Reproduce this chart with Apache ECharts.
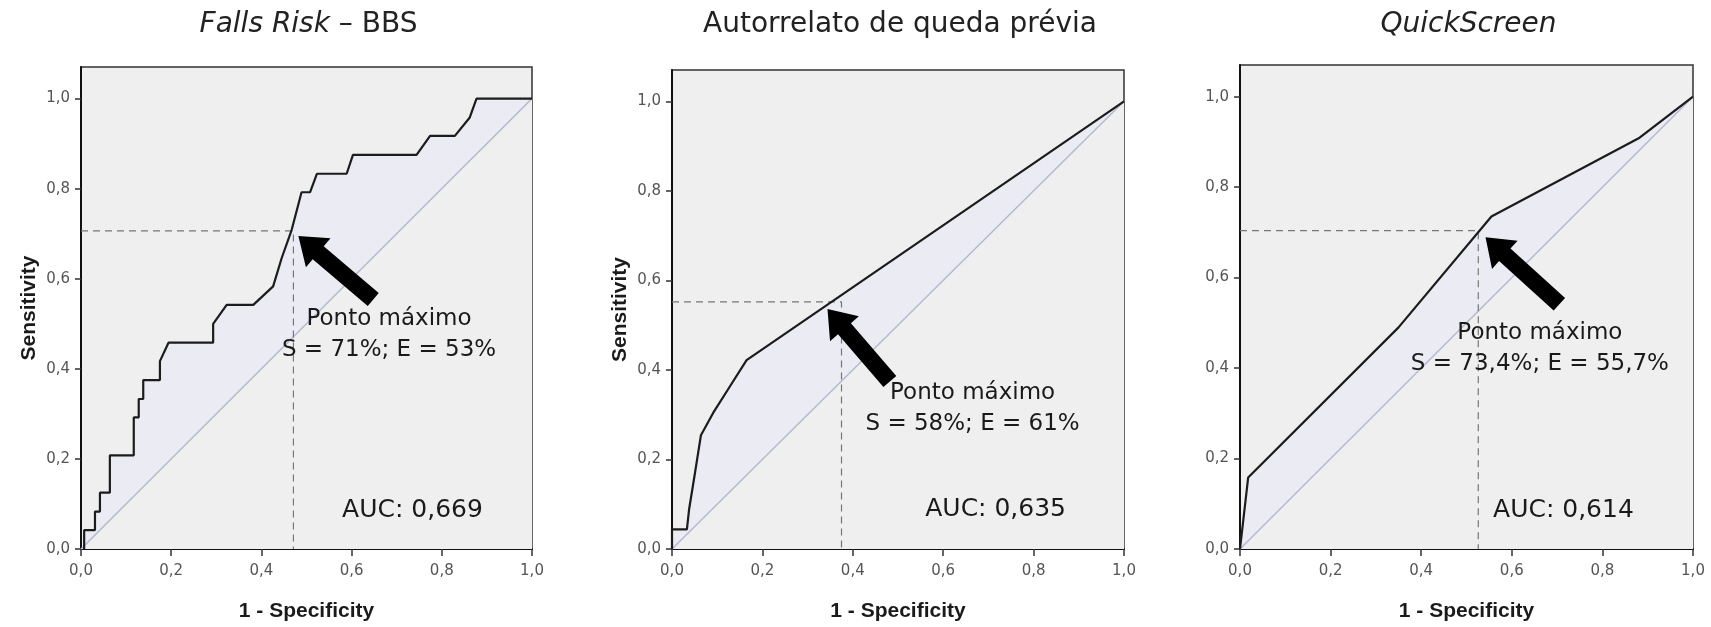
<!DOCTYPE html>
<html>
<head>
<meta charset="utf-8">
<script src="https://cdn.jsdelivr.net/npm/echarts@6/dist/echarts.min.js"></script>
<style>
  html, body { margin: 0; padding: 0; background: #fff; }
  #roc { width: 1711px; height: 627px; }
</style>
</head>
<body>
<div id="roc"></div>
<script>
// tick positions (both axes)
var ticks = [0, 0.2, 0.4, 0.6, 0.8, 1.0];

// Falls Risk - BBS (1 - specificity / sensitivity)
var bbsFpr = [0.007, 0.007, 0.031, 0.031, 0.042, 0.042, 0.064, 0.064, 0.117, 0.117, 0.128, 0.128, 0.138, 0.138, 0.175, 0.175, 0.194, 0.293, 0.293, 0.323, 0.382, 0.426, 0.445, 0.467, 0.489, 0.508, 0.523, 0.589, 0.603, 0.744, 0.774, 0.829, 0.862, 0.877, 1.0];
var bbsTpr = [0, 0.042, 0.042, 0.083, 0.083, 0.125, 0.125, 0.208, 0.208, 0.292, 0.292, 0.333, 0.333, 0.375, 0.375, 0.417, 0.458, 0.458, 0.5, 0.542, 0.542, 0.583, 0.646, 0.708, 0.792, 0.792, 0.833, 0.833, 0.875, 0.875, 0.917, 0.917, 0.958, 1.0, 1.0];

// Autorrelato de queda prévia
var quedaFpr = [0, 0, 0.033, 0.038, 0.051, 0.064, 0.091, 0.128, 0.165, 1.0];
var quedaTpr = [0, 0.044, 0.044, 0.09, 0.171, 0.254, 0.304, 0.363, 0.422, 1.0];

// QuickScreen
var quickFpr = [0, 0.018, 0.35, 0.555, 0.88, 1.0];
var quickTpr = [0, 0.158, 0.49, 0.735, 0.908, 1.0];

// reference diagonal
var refFpr = [0, 1];
var refTpr = [0, 1];

// cut points (dashed guides) [fpr, tpr]
var cutPoints = [[0.471, 0.706], [0.375, 0.552], [0.526, 0.704]];

// arrows: tip and tail, data coords
var arrowTips = [[0.482, 0.695], [0.344, 0.536], [0.542, 0.689]];
var arrowTails = [[0.648, 0.554], [0.482, 0.374], [0.705, 0.541]];

var titles = ['{i|Falls Risk} – BBS', 'Autorrelato de queda prévia', '{i|QuickScreen}'];
var pontoLabels = ['S = 71%; E = 53%', 'S = 58%; E = 61%', 'S = 73,4%; E = 55,7%'];
var pontoPos = [[0.683, 0.475], [0.665, 0.314], [0.662, 0.444]];
var aucLabels = ['AUC: 0,669', 'AUC: 0,635', 'AUC: 0,614'];
var aucPos = [[0.735, 0.086], [0.716, 0.088], [0.714, 0.086]];

var curvesFpr = [bbsFpr, quedaFpr, quickFpr];
var curvesTpr = [bbsTpr, quedaTpr, quickTpr];

function pairs(xs, ys) {
  var out = [];
  for (var i = 0; i < xs.length; i++) out.push([xs[i], ys[i]]);
  return out;
}

var chart = echarts.init(document.getElementById('roc'));
var FONT = '"DejaVu Sans", Arial, sans-serif';
var BOLD = '"Liberation Sans", Arial, sans-serif';

// grid boxes (pixels)
var grids = [
  {left: 81, top: 67, width: 451, height: 483},
  {left: 672, top: 70, width: 452, height: 484},
  {left: 1240, top: 65, width: 453, height: 486}
];

var fmt = function (v) { return v.toFixed(1).replace('.', ','); };

var option = {
  animation: false,
  grid: grids.map(function (g) {
    return Object.assign({
      show: true, backgroundColor: '#efefef', borderColor: '#333', borderWidth: 1.5
    }, g);
  }),
  xAxis: [],
  yAxis: [],
  series: []
};

for (let i = 0; i < 3; i++) {
  option.xAxis.push({
    type: 'value', gridIndex: i, min: 0, max: 1, interval: 0.2,
    name: '1 - Specificity', nameLocation: 'middle', nameGap: 52,
    nameTextStyle: {fontFamily: BOLD, fontWeight: 'bold', fontSize: 21, color: '#1a1a1a'},
    axisLine: {lineStyle: {color: '#111', width: 2}},
    axisTick: {length: 7, lineStyle: {color: '#333', width: 1.5}, customValues: ticks},
    axisLabel: {margin: 15, fontFamily: FONT, fontSize: 15, color: '#555', formatter: fmt, customValues: ticks},
    splitLine: {show: false}
  });
  option.yAxis.push({
    type: 'value', gridIndex: i, min: 0, max: 1.07, interval: 0.2,
    name: i < 2 ? 'Sensitivity' : '', nameLocation: 'middle', nameGap: 41, nameRotate: 90,
    nameTextStyle: {fontFamily: BOLD, fontWeight: 'bold', fontSize: 21, color: '#1a1a1a'},
    axisLine: {lineStyle: {color: '#111', width: 2}},
    axisTick: {length: 6, lineStyle: {color: '#333', width: 1.5}, customValues: ticks},
    axisLabel: {margin: 11, fontFamily: FONT, fontSize: 15, color: '#555', formatter: fmt, customValues: ticks},
    splitLine: {show: false}
  });

  var curve = pairs(curvesFpr[i], curvesTpr[i]);
  var cut = cutPoints[i];

  // faint tint between curve and diagonal
  option.series.push({
    type: 'line', xAxisIndex: i, yAxisIndex: i, data: curve, showSymbol: false, silent: true,
    lineStyle: {width: 0, opacity: 0}, areaStyle: {color: '#eaebf3', opacity: 1}, z: 1
  });
  // diagonal
  option.series.push({
    type: 'line', xAxisIndex: i, yAxisIndex: i, data: pairs(refFpr, refTpr), showSymbol: false, silent: true,
    lineStyle: {color: '#b6b9cf', width: 1.5}, areaStyle: {color: '#efefef', opacity: 1}, z: 2
  });
  // dashed guides to the cut point
  option.series.push({
    type: 'line', xAxisIndex: i, yAxisIndex: i, showSymbol: false, silent: true,
    data: [[0, cut[1]], [cut[0], cut[1]], [cut[0], 0]],
    lineStyle: {color: '#777', width: 1.2, type: [7, 5]}, z: 3
  });
  // ROC curve
  option.series.push({
    type: 'line', xAxisIndex: i, yAxisIndex: i, data: curve, showSymbol: false, silent: true,
    lineStyle: {color: '#1c1c1c', width: 2.2}, z: 4
  });
}

chart.setOption(option);

// annotations placed through the axes
function arrowPoints(tip, tail) {
  var dx = tail[0] - tip[0], dy = tail[1] - tip[1];
  var len = Math.sqrt(dx * dx + dy * dy);
  var ux = dx / len, uy = dy / len;
  var nx = -uy, ny = ux;
  var head = 26, hw = 19, sw = 8.5;
  var bx = tip[0] + ux * head, by = tip[1] + uy * head;
  return [
    tip,
    [bx + nx * hw, by + ny * hw],
    [bx + nx * sw, by + ny * sw],
    [tail[0] + nx * sw, tail[1] + ny * sw],
    [tail[0] - nx * sw, tail[1] - ny * sw],
    [bx - nx * sw, by - ny * sw],
    [bx - nx * hw, by - ny * hw]
  ];
}

var graphic = [];
for (let i = 0; i < 3; i++) {
  var g = grids[i];
  graphic.push({
    type: 'text', x: g.left + g.width / 2 + 2, y: 25, silent: true,
    style: {
      text: titles[i], fontFamily: FONT, fontSize: 28, fill: '#222', align: 'center', verticalAlign: 'middle',
      rich: {i: {fontFamily: FONT, fontSize: 28, fontStyle: 'italic', fill: '#222'}}
    }
  });
  var tip = chart.convertToPixel({gridIndex: i}, arrowTips[i]);
  var tail = chart.convertToPixel({gridIndex: i}, arrowTails[i]);
  graphic.push({
    type: 'polygon', silent: true, z: 10,
    shape: {points: arrowPoints(tip, tail)},
    style: {fill: '#000'}
  });
  var p = chart.convertToPixel({gridIndex: i}, pontoPos[i]);
  graphic.push({
    type: 'text', x: p[0], y: p[1], silent: true, z: 10,
    style: {text: 'Ponto máximo\n' + pontoLabels[i], fontFamily: FONT, fontSize: 23, lineHeight: 31,
      fill: '#1a1a1a', align: 'center', verticalAlign: 'middle'}
  });
  var a = chart.convertToPixel({gridIndex: i}, aucPos[i]);
  graphic.push({
    type: 'text', x: a[0], y: a[1], silent: true, z: 10,
    style: {text: aucLabels[i], fontFamily: FONT, fontSize: 25, fill: '#1a1a1a', align: 'center', verticalAlign: 'middle'}
  });
}
chart.setOption({graphic: graphic});
</script>
</body>
</html>
